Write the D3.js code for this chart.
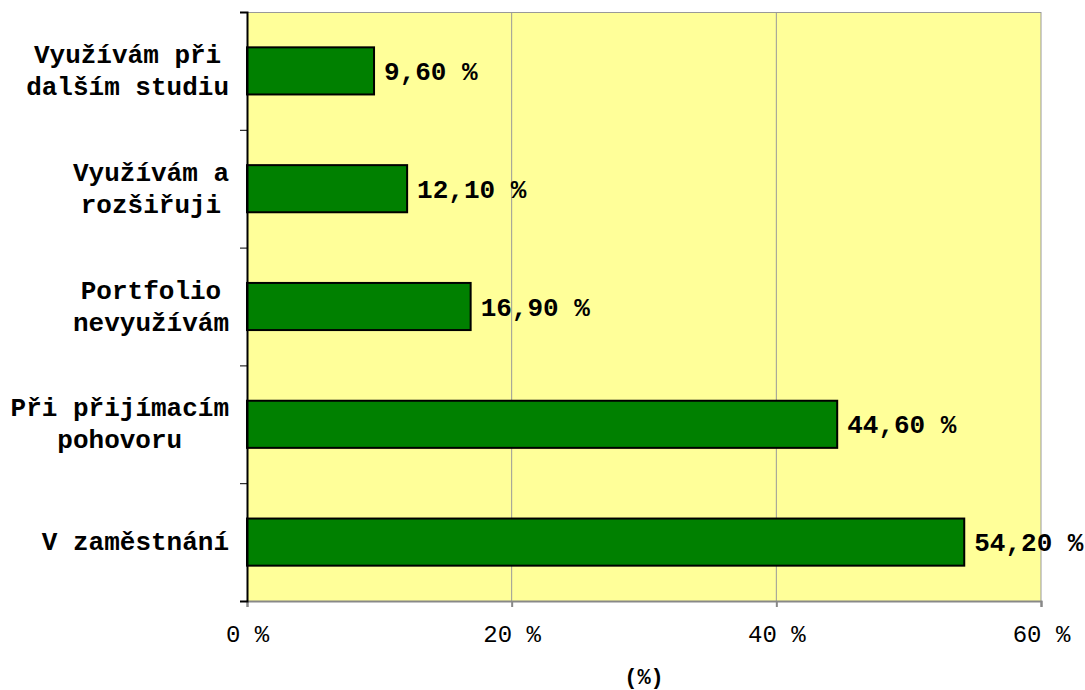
<!DOCTYPE html>
<html><head><meta charset="utf-8">
<script src="https://cdn.jsdelivr.net/npm/d3@7"></script>
<style>body{margin:0;background:#fff}svg{display:block}</style>
</head><body>
<svg id="c" width="1085" height="690"></svg>
<script>
const categories = [["Využívám při","dalším studiu"],["Využívám a","rozšiřuji"],["Portfolio","nevyužívám"],["Při přijímacím","pohovoru"],["V zaměstnání"]];
const values = [9.6, 12.1, 16.9, 44.6, 54.2];
const tickValues = [0, 20, 40, 60];
const axisTitle = "(%)";

const svg = d3.select("#c");
const L = 247, R = 1041, T = 12, B = 601;
const FONT = "'Liberation Mono','Courier New',monospace";
const FS = 24, FSB = 26;
const x = d3.scaleLinear().domain([0, 60]).range([L, R]);
const y = d3.scaleBand().domain(d3.range(values.length)).range([T, B]).padding(0);

svg.append("rect").attr("x", L).attr("y", T).attr("width", R - L).attr("height", B - T).attr("fill", "#FFFF99");
// gridlines
svg.append("g").selectAll("line").data(tickValues.slice(1)).join("line")
  .attr("x1", d => x(d)).attr("x2", d => x(d)).attr("y1", T).attr("y2", B)
  .attr("stroke", "#999").attr("stroke-width", 1);
svg.append("line").attr("x1", L).attr("x2", R).attr("y1", T + 0.5).attr("y2", T + 0.5).attr("stroke", "#999");

// bars
const bh = y.bandwidth() * 0.4;
svg.append("g").selectAll("rect").data(values).join("rect")
  .attr("x", x(0)).attr("y", (d, i) => y(i) + (y.bandwidth() - bh) / 2)
  .attr("width", d => x(d) - x(0)).attr("height", bh)
  .attr("fill", "#008000").attr("stroke", "#000").attr("stroke-width", 2);

// value labels
svg.append("g").selectAll("text").data(values).join("text")
  .attr("x", d => x(d) + 10).attr("y", (d, i) => y(i) + y.bandwidth() / 2)
  .attr("dy", "0.35em").attr("font-family", FONT).attr("font-size", FSB).attr("font-weight", "bold")
  .text(d => d.toFixed(2).replace(".", ",") + " %");

// x axis
const xAxis = d3.axisBottom(x).tickValues(tickValues).tickSize(6).tickFormat(d => d + " %");
const gx = svg.append("g").attr("transform", `translate(0,${B})`).call(xAxis);
gx.select(".domain").attr("stroke", "#888").attr("stroke-width", 2);
gx.selectAll(".tick line").attr("stroke", "#888").attr("stroke-width", 2);
gx.selectAll(".tick text").attr("font-family", FONT).attr("font-size", FS).attr("fill", "#000").attr("y", 24);

// y axis
const yAxis = d3.axisLeft(d3.scaleLinear().domain([0, values.length]).range([T, B])).ticks(values.length).tickSize(7).tickFormat("");
const gy = svg.append("g").attr("transform", `translate(${L},0)`).call(yAxis);
gy.select(".domain").attr("stroke", "#000").attr("stroke-width", 2);
gy.selectAll(".tick line").attr("stroke", "#000").attr("stroke-width", 1);

// category labels
const lh = 32;
categories.forEach((lines, i) => {
  const cy = y(i) + y.bandwidth() / 2 - 1;
  const t = svg.append("text").attr("font-family", FONT).attr("font-size", FSB).attr("font-weight", "bold")
    .attr("text-anchor", "middle");
  lines.forEach(s => t.append("tspan").text(s));
  const widths = [];
  t.selectAll("tspan").each(function() { widths.push(this.getComputedTextLength()); });
  const maxW = d3.max(widths);
  const cx = 229 - maxW / 2;
  t.selectAll("tspan").attr("x", cx)
    .attr("y", (d, k) => cy + (k - (lines.length - 1) / 2) * lh)
    .attr("dy", "0.35em");
});

svg.append("text").attr("x", (L + R) / 2).attr("y", 676).attr("dy", "0.35em").attr("text-anchor", "middle")
  .attr("font-family", FONT).attr("font-size", 22).attr("font-weight", "bold").text(axisTitle);
</script>
</body></html>
